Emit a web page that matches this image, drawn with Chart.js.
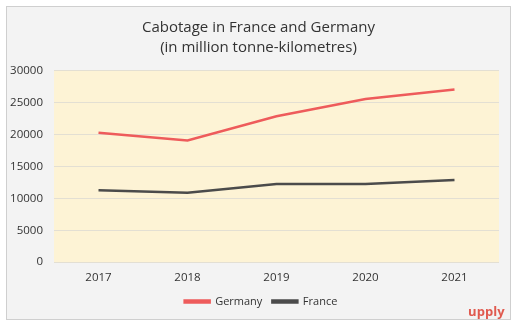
<!DOCTYPE html>
<html><head><meta charset="utf-8">
<script src="https://cdn.jsdelivr.net/npm/chart.js@4"></script>
<style>
html,body{margin:0;padding:0;background:#fff;width:520px;height:326px;overflow:hidden;font-family:"Open Sans",sans-serif;}
#box{position:absolute;left:6px;top:6px;width:503px;height:312px;border:1px solid #cfcfcf;background:#f3f3f3;}
#logo{position:absolute;left:461px;top:295px;color:#e05a4f;font-weight:bold;font-size:13px;letter-spacing:0.1px;font-family:"Open Sans",sans-serif;}
canvas{position:absolute;left:0;top:0;}
</style></head>
<body>
<div id="box"><canvas id="c" width="503" height="312"></canvas><div id="logo">upply</div></div>
<script>
const years = ["2017","2018","2019","2020","2021"];
const germany = [20300, 19100, 22900, 25600, 27100];
const france = [11300, 10900, 12250, 12250, 12900];
const titleLines = ["Cabotage in France and Germany","(in million tonne-kilometres)"];

const plotBg = {
  id:'plotBg',
  afterLayout(chart){
    if (chart.titleBlock) chart.titleBlock.left += 11;
    if (chart.legend) chart.legend.left += 16;
  },
  beforeDraw(chart){
    const {ctx, chartArea:a} = chart;
    ctx.save(); ctx.fillStyle = '#fdf3d5';
    ctx.fillRect(a.left, a.top, a.right-a.left, a.bottom-a.top);
    ctx.restore();
  }
};

new Chart(document.getElementById('c'), {
  type:'line',
  data:{labels:years, datasets:[
    {label:'Germany', data:germany, borderColor:'#ee5b5b', backgroundColor:'#ee5b5b', borderWidth:2.5, pointRadius:0, tension:0},
    {label:'France', data:france, borderColor:'#4b4b4b', backgroundColor:'#4b4b4b', borderWidth:2.5, pointRadius:0, tension:0}
  ]},
  options:{
    responsive:false, animation:false,
    layout:{padding:{left:0, right:11, top:0, bottom:2}},
    plugins:{
      title:{display:true, text:titleLines, color:'#333', font:{family:'Open Sans', size:15, weight:'normal', lineHeight:1.333}, padding:{top:11, bottom:13}},
      legend:{position:'bottom', labels:{color:'#333', font:{family:'Open Sans', size:11}, boxWidth:25, boxHeight:2, padding:10}},
      tooltip:{enabled:false}
    },
    scales:{
      x:{offset:true, grid:{display:false}, border:{display:false}, ticks:{color:'#333', font:{family:'Open Sans', size:11.5}, padding:1}},
      y:{min:0, max:30000, ticks:{stepSize:5000, color:'#333', font:{family:'Open Sans', size:11.5}, padding:11, callback:v=>String(v)},
         grid:{color:'#e3dfd3', drawTicks:false}, border:{display:false},
         afterFit(s){ s.width = 47; }}
    }
  },
  plugins:[plotBg]
});
</script>
</body></html>
